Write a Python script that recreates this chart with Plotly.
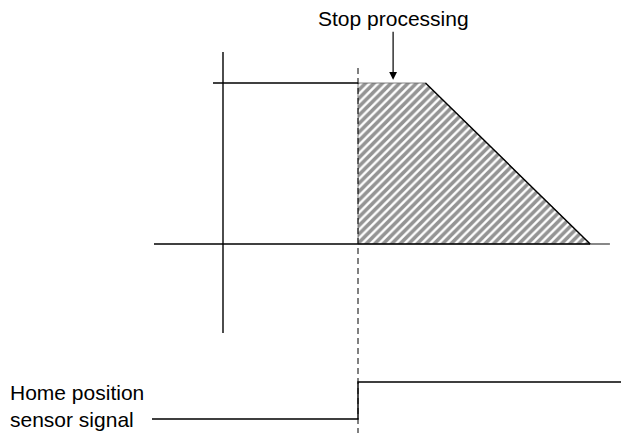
import plotly.graph_objects as go

# Speed profile (time in arbitrary units, speed normalised to 1.0)
profile_time = [5.0, 5.0, 7.5, 13.6]
profile_speed = [0.0, 1.0, 1.0, 0.0]

# Home position sensor signal (0 = off, 1 = on)
signal_time = [-2.63, 5.0, 5.0, 15.3]
signal_level = [0, 0, 1, 1]

sensor_time = 5.0
stop_time = 6.3
labels = ["Stop processing", "Home position<br>sensor signal"]

# pixel scale of the drawing (page body has an 8px margin)
W, H = 621, 425
X0, PX_T = 215, 27.0       # time origin and px per time unit
Y0, PX_V = 236, 161.0      # speed origin and px per speed unit
S0, PX_S = 411, 37.0       # signal low level and px per unit

FONT = "Arial, Liberation Sans, sans-serif"
line = dict(color="black", width=1.4)

fig = go.Figure()

# hatched region
fig.add_trace(go.Scatter(
    x=profile_time + [profile_time[0]], y=profile_speed + [profile_speed[0]],
    fill="toself", mode="lines",
    line=dict(color="rgba(100,100,100,0.8)", width=1),
    fillcolor="white",
    fillpattern=dict(shape="/", size=6, solidity=0.6, fgcolor="#2a2a2a", bgcolor="white"),
    hoverinfo="skip",
))

# axes of the diagram
fig.add_trace(go.Scatter(x=[0, 0], y=[1.193, -0.553], mode="lines", line=line))
fig.add_trace(go.Scatter(x=[-2.556, profile_time[-1]], y=[0, 0], mode="lines", line=line))
fig.add_trace(go.Scatter(x=[profile_time[-1], 14.33], y=[0, 0], mode="lines",
                         line=dict(color="#555", width=1.4)))
fig.add_trace(go.Scatter(x=[-0.37, sensor_time], y=[1, 1], mode="lines", line=line))

# deceleration slope
fig.add_trace(go.Scatter(x=profile_time[2:], y=profile_speed[2:], mode="lines", line=line))

# sensor signal
fig.add_trace(go.Scatter(x=signal_time, y=signal_level, yaxis="y2", mode="lines",
                         line=line, cliponaxis=False))

# dashed sensor line
fig.add_trace(go.Scatter(x=[sensor_time, sensor_time], y=[1.093, -1.2], mode="lines",
                         line=dict(color="black", width=1, dash="6px,4px")))

fig.add_annotation(
    x=stop_time, y=1.02, xref="x", yref="y",
    text=labels[0], showarrow=True, ax=0, ay=-61,
    arrowhead=2, arrowsize=1.3, arrowwidth=1.2, arrowcolor="black",
    font=dict(family=FONT, size=21, color="black"),
)
fig.add_annotation(
    x=0, y=1 - 398 / H, xref="paper", yref="paper",
    xanchor="left", yanchor="middle", align="left",
    text=labels[1], showarrow=False,
    font=dict(family=FONT, size=21, color="black"),
)

fig.update_layout(
    width=W, height=H,
    margin=dict(l=0, r=0, t=0, b=0),
    paper_bgcolor="white", plot_bgcolor="white",
    showlegend=False,
    xaxis=dict(range=[-X0 / PX_T, (W - X0) / PX_T], visible=False),
    yaxis=dict(range=[(Y0 - H) / PX_V, Y0 / PX_V], visible=False),
    yaxis2=dict(range=[(S0 - H) / PX_S, S0 / PX_S], overlaying="y", visible=False),
)

fig.write_html("out.html")
